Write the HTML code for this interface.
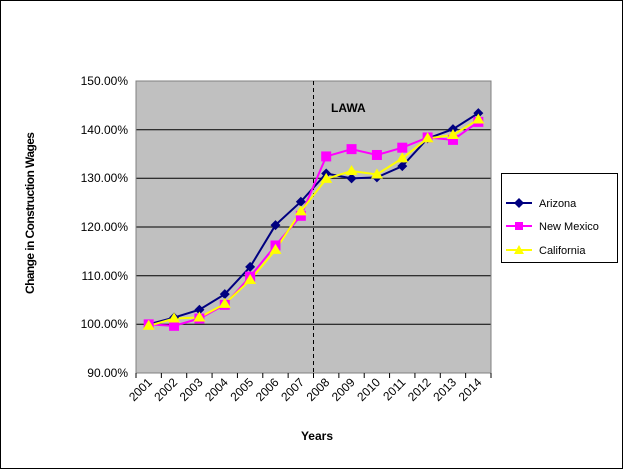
<!DOCTYPE html>
<html><head><meta charset="utf-8"><style>body{margin:0;background:#fff}</style></head><body>
<svg width="623" height="469" xmlns="http://www.w3.org/2000/svg" font-family="Liberation Sans, Arial, sans-serif">
<rect x="0.5" y="0.5" width="622" height="468" fill="#fff" stroke="#000"/>
<rect x="136" y="81" width="355" height="292" fill="#c0c0c0"/>
<g stroke="#000" stroke-width="1">
<line x1="136" y1="129.7" x2="491" y2="129.7"/><line x1="136" y1="178.3" x2="491" y2="178.3"/>
<line x1="136" y1="227" x2="491" y2="227"/><line x1="136" y1="275.7" x2="491" y2="275.7"/>
<line x1="136" y1="324.3" x2="491" y2="324.3"/>
<line x1="136" y1="81" x2="136" y2="373"/><line x1="136" y1="373" x2="491" y2="373"/>
</g>
<rect x="136" y="81" width="355" height="292" fill="none" stroke="#808080"/>
<line x1="313.5" y1="81" x2="313.5" y2="373" stroke="#000" stroke-dasharray="4,3"/>
<text x="331" y="112" font-size="12" font-weight="bold">LAWA</text>
<g font-size="12" text-anchor="end">
<text x="128" y="85">150.00%</text><text x="128" y="134">140.00%</text><text x="128" y="182">130.00%</text>
<text x="128" y="231">120.00%</text><text x="128" y="280">110.00%</text><text x="128" y="328">100.00%</text>
<text x="128" y="377">90.00%</text>
</g>
<g stroke="#000" id="ticks"></g>
<g font-size="12" text-anchor="end" id="xl"></g>
<text transform="translate(34,294) rotate(-90)" font-size="12" font-weight="bold" textLength="162" lengthAdjust="spacing">Change in Construction  Wages</text>
<text x="317" y="440" font-size="12" font-weight="bold" text-anchor="middle">Years</text>
<g id="series"></g>
<rect x="501.5" y="173.5" width="116" height="89" fill="#fff" stroke="#000"/>
<line x1="506" y1="203" x2="532" y2="203" stroke="#000080" stroke-width="2"/>
<path d="M519 198L524 203L519 208L514 203Z" fill="#000080"/>
<line x1="506" y1="226" x2="532" y2="226" stroke="#ff00ff" stroke-width="2"/>
<rect x="515" y="222" width="8" height="8" fill="#ff00ff"/>
<line x1="506" y1="250" x2="532" y2="250" stroke="#ffff00" stroke-width="2"/>
<path d="M519 245L524 254L514 254Z" fill="#ffff00"/>
<g font-size="11"><text x="539" y="207">Arizona</text><text x="539" y="230">New Mexico</text><text x="539" y="254">California</text></g>
</svg>
<script>
const ns="http://www.w3.org/2000/svg";
const X=i=>148.7+i*25.357, Y=v=>81+(150-v)*4.867;
const t=document.getElementById('ticks'),xl=document.getElementById('xl'),s=document.getElementById('series');
for(let i=0;i<=14;i++){const l=document.createElementNS(ns,'line');const x=136+i*25.357;l.setAttribute('x1',x);l.setAttribute('x2',x);l.setAttribute('y1',373);l.setAttribute('y2',378);t.appendChild(l);}
for(let i=0;i<14;i++){const tx=document.createElementNS(ns,'text');const x=X(i)+4,y=383;tx.setAttribute('transform',`translate(${x},${y}) rotate(-45)`);tx.textContent=2001+i;xl.appendChild(tx);}
const AZ=[100,101.4,103,106.2,111.8,120.4,125.2,131,130,130.2,132.5,138.2,140.1,143.4];
const NM=[100,99.7,101.2,104,109.8,116.2,122.3,134.5,136,134.8,136.3,138.4,137.9,141.6];
const CA=[99.7,101.2,101.4,104.2,109.1,115.3,123.2,129.9,131.5,130.8,134.1,138.2,138.9,142.1];
function line(d,c){const p=document.createElementNS(ns,'polyline');p.setAttribute('points',d.map((v,i)=>X(i)+','+Y(v)).join(' '));p.setAttribute('fill','none');p.setAttribute('stroke',c);p.setAttribute('stroke-width',2);s.appendChild(p);}
function mk(d,f,c){d.forEach((v,i)=>{const e=document.createElementNS(ns,'path');e.setAttribute('d',f(X(i),Y(v)));e.setAttribute('fill',c);s.appendChild(e);});}
line(AZ,'#000080');line(NM,'#ff00ff');line(CA,'#ffff00');
mk(AZ,(x,y)=>`M${x} ${y-5}L${x+5} ${y}L${x} ${y+5}L${x-5} ${y}Z`,'#000080');
mk(NM,(x,y)=>`M${x-5} ${y-5}h10v10h-10Z`,'#ff00ff');
mk(CA,(x,y)=>`M${x} ${y-6}L${x+6} ${y+4}L${x-6} ${y+4}Z`,'#ffff00');
</script>
</body></html>
